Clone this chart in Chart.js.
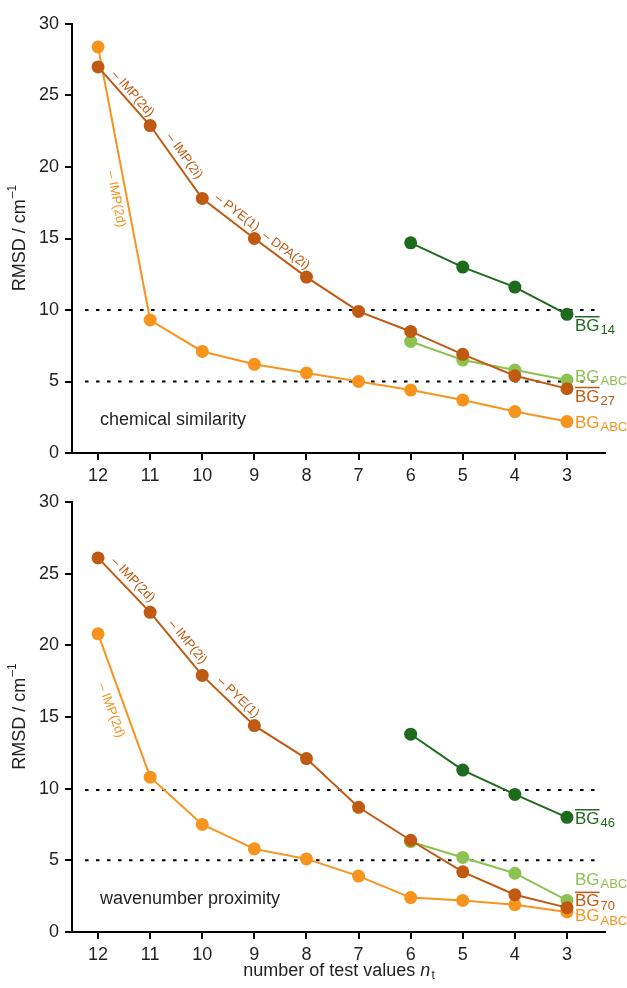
<!DOCTYPE html>
<html>
<head>
<meta charset="utf-8">
<script src="https://cdn.jsdelivr.net/npm/chart.js@4/dist/chart.umd.min.js"></script>
<style>
body { margin: 0; background: #fff; }
#wrap { position: relative; width: 627px; height: 988px; }
canvas { position: absolute; left: 0; }
</style>
</head>
<body>
<div id="wrap">
  <canvas id="chemChart" width="627" height="484" style="top:0px"></canvas>
  <canvas id="waveChart" width="627" height="504" style="top:484px"></canvas>
</div>
<script>
// number of test values (x categories)
var nt = [12, 11, 10, 9, 8, 7, 6, 5, 4, 3];
var ntShort = [6, 5, 4, 3];

// chemical similarity panel
var chemDarkOrange  = [27.0, 22.9, 17.8, 15.0, 12.3, 9.9, 8.5, 6.9, 5.4, 4.5];
var chemLightOrange = [28.4, 9.3, 7.1, 6.2, 5.6, 5.0, 4.4, 3.7, 2.9, 2.2];
var chemDarkGreen   = [14.7, 13.0, 11.6, 9.7];
var chemLightGreen  = [7.8, 6.5, 5.8, 5.1];
var chemRefLines    = [10, 5];

// wavenumber proximity panel
var waveDarkOrange  = [26.1, 22.3, 17.9, 14.4, 12.1, 8.7, 6.4, 4.2, 2.6, 1.7];
var waveLightOrange = [20.8, 10.8, 7.5, 5.8, 5.1, 3.9, 2.4, 2.2, 1.9, 1.4];
var waveDarkGreen   = [13.8, 11.3, 9.6, 8.0];
var waveLightGreen  = [6.3, 5.2, 4.1, 2.2];
var waveRefLines    = [9.9, 5];

var yTickStep = 5;

var darkOrange = '#C05A12',
    lightOrange = '#F7941D',
    darkGreen = '#1E6B1E',
    lightGreen = '#8DC152',
    ink = '#231F20';

var fontFam = '"Liberation Sans", Arial, Helvetica, sans-serif';

function toPoints(xs, ys) {
  return xs.map(function(x, i) { return { x: x, y: ys[i] }; });
}

function lineSet(xs, ys, colour) {
  return {
    data: toPoints(xs, ys),
    borderColor: colour,
    backgroundColor: colour,
    pointBackgroundColor: colour,
    pointBorderWidth: 0,
    pointRadius: 6.5,
    borderWidth: 2,
    tension: 0
  };
}

function refSet(v) {
  return {
    data: [{ x: 12.25, y: v }, { x: 2.42, y: v }],
    borderColor: '#000',
    borderWidth: 2,
    borderDash: [3.5, 7.5],
    pointRadius: 0,
    tension: 0
  };
}

function drawTag(ctx, x, yBase, tag) {
  ctx.fillStyle = tag.color;
  ctx.textAlign = 'left';
  ctx.textBaseline = 'alphabetic';
  ctx.font = '17px ' + fontFam;
  ctx.fillText('BG', x, yBase);
  var w = ctx.measureText('BG').width;
  if (tag.bar) {
    ctx.strokeStyle = tag.color;
    ctx.lineWidth = 1.5;
    ctx.beginPath();
    ctx.moveTo(x, yBase - 14);
    ctx.lineTo(x + w, yBase - 14);
    ctx.stroke();
  }
  ctx.font = '13px ' + fontFam;
  ctx.fillText(tag.sub, x + w + 1, yBase + 3.5);
}

var decorPlugin = {
  id: 'decor',
  afterDatasetsDraw: function(chart, args, opts) {
    var ctx = chart.ctx, xs = chart.scales.x, ys = chart.scales.y, area = chart.chartArea;
    ctx.save();

    // labels written along the line segments
    opts.notes.forEach(function(n) {
      var pts = chart.getDatasetMeta(n.ds).data;
      var p1 = pts[n.seg], p2 = pts[n.seg + 1];
      var a = Math.atan2(p2.y - p1.y, p2.x - p1.x);
      var cx = p1.x + n.t * (p2.x - p1.x) + n.off * Math.sin(a);
      var cy = p1.y + n.t * (p2.y - p1.y) - n.off * Math.cos(a);
      ctx.save();
      ctx.translate(cx, cy);
      ctx.rotate(a);
      ctx.font = '13px ' + fontFam;
      ctx.fillStyle = n.color;
      ctx.textAlign = 'center';
      ctx.textBaseline = 'middle';
      ctx.fillText(n.text, 0, 0);
      ctx.restore();
    });

    // series names at the right end
    var tx = xs.getPixelForValue(3) + 8;
    opts.tags.forEach(function(tag) {
      drawTag(ctx, tx, ys.getPixelForValue(tag.y), tag);
    });

    // panel caption
    ctx.fillStyle = ink;
    ctx.font = '18px ' + fontFam;
    ctx.textAlign = 'left';
    ctx.textBaseline = 'middle';
    ctx.fillText(opts.caption, area.left + 28, ys.getPixelForValue(2.3));

    // y title  RMSD / cm-1
    ctx.save();
    ctx.translate(20, (area.top + area.bottom) / 2);
    ctx.rotate(-Math.PI / 2);
    ctx.font = '18px ' + fontFam;
    var main = 'RMSD / cm';
    var mw = ctx.measureText(main).width;
    ctx.font = '12px ' + fontFam;
    var sw = ctx.measureText('\u20131').width;
    var start = -(mw + sw) / 2;
    ctx.textAlign = 'left';
    ctx.textBaseline = 'middle';
    ctx.font = '18px ' + fontFam;
    ctx.fillText(main, start, 0);
    ctx.font = '12px ' + fontFam;
    ctx.fillText('\u20131', start + mw + 1, -7);
    ctx.restore();

    // x title on the lower panel only
    if (opts.xTitle) {
      var yT = area.bottom + 39;
      var p1 = 'number of test values ';
      ctx.font = '18px ' + fontFam;
      var w1 = ctx.measureText(p1).width;
      ctx.font = 'italic 18px ' + fontFam;
      var w2 = ctx.measureText('n').width;
      ctx.font = '12px ' + fontFam;
      var w3 = ctx.measureText('t').width;
      var x0 = (area.left + area.right) / 2 - (w1 + w2 + w3) / 2;
      ctx.font = '18px ' + fontFam;
      ctx.fillText(p1, x0, yT);
      ctx.font = 'italic 18px ' + fontFam;
      ctx.fillText('n', x0 + w1, yT);
      ctx.font = '12px ' + fontFam;
      ctx.fillText('t', x0 + w1 + w2 + 1, yT + 5);
    }
    ctx.restore();
  }
};

function makeChart(id, series, refLines, decor, padTop, axisHeight) {
  var datasets = [
    lineSet(nt, series.darkOrange, darkOrange),
    lineSet(ntShort, series.darkGreen, darkGreen),
    lineSet(ntShort, series.lightGreen, lightGreen),
    lineSet(nt, series.lightOrange, lightOrange)
  ];
  refLines.forEach(function(v) { datasets.push(refSet(v)); });

  var axisGrid = { drawOnChartArea: false, drawTicks: true, tickLength: 7, color: '#000', lineWidth: 2 };
  var axisBorder = { color: '#000', width: 2 };
  var tickFont = { family: fontFam, size: 18 };

  return new Chart(document.getElementById(id).getContext('2d'), {
    type: 'line',
    data: { datasets: datasets },
    plugins: [decorPlugin],
    options: {
      responsive: false,
      animation: false,
      layout: { padding: { left: 0, top: padTop, right: 22, bottom: 0 } },
      plugins: {
        legend: { display: false },
        tooltip: { enabled: false },
        decor: decor
      },
      scales: {
        x: {
          type: 'linear',
          reverse: true,
          min: 2.27,
          max: 12.5,
          grid: axisGrid,
          border: axisBorder,
          afterBuildTicks: function(s) {
            s.ticks = nt.map(function(v) { return { value: v }; });
          },
          afterFit: function(s) { s.height = axisHeight; },
          ticks: {
            autoSkip: false,
            maxRotation: 0,
            padding: 5,
            color: ink,
            font: tickFont,
            callback: function(v) { return String(v); }
          }
        },
        y: {
          min: 0,
          max: 30,
          grid: axisGrid,
          border: axisBorder,
          afterFit: function(s) { s.width = 72; },
          ticks: {
            stepSize: yTickStep,
            padding: 6,
            color: ink,
            font: tickFont
          }
        }
      }
    }
  });
}

makeChart('chemChart', {
  darkOrange: chemDarkOrange,
  lightOrange: chemLightOrange,
  darkGreen: chemDarkGreen,
  lightGreen: chemLightGreen
}, chemRefLines, {
  caption: 'chemical similarity',
  xTitle: false,
  notes: [
    { ds: 0, seg: 0, t: 0.55, off: 8, text: '\u2013 IMP(2d)', color: darkOrange },
    { ds: 0, seg: 1, t: 0.5, off: 10, text: '\u2013 IMP(2i)', color: darkOrange },
    { ds: 0, seg: 2, t: 0.55, off: 10, text: '\u2013 PYE(1)', color: darkOrange },
    { ds: 0, seg: 3, t: 0.5, off: 9, text: '\u2013 DPA(2i)', color: darkOrange },
    { ds: 3, seg: 0, t: 0.55, off: -11, text: '\u2013 IMP(2d)', color: lightOrange }
  ],
  tags: [
    { y: 8.55, sub: '14', bar: true, color: darkGreen },
    { y: 5.0, sub: 'ABC', bar: false, color: lightGreen },
    { y: 3.6, sub: '27', bar: true, color: darkOrange },
    { y: 1.75, sub: 'ABC', bar: false, color: lightOrange }
  ]
}, 24, 31);

makeChart('waveChart', {
  darkOrange: waveDarkOrange,
  lightOrange: waveLightOrange,
  darkGreen: waveDarkGreen,
  lightGreen: waveLightGreen
}, waveRefLines, {
  caption: 'wavenumber proximity',
  xTitle: true,
  notes: [
    { ds: 0, seg: 0, t: 0.53, off: 10, text: '\u2013 IMP(2d)', color: darkOrange },
    { ds: 0, seg: 1, t: 0.57, off: 10, text: '\u2013 IMP(2i)', color: darkOrange },
    { ds: 0, seg: 2, t: 0.57, off: 9, text: '\u2013 PYE(1)', color: darkOrange },
    { ds: 3, seg: 0, t: 0.5, off: -14, text: '\u2013 IMP(2d)', color: lightOrange }
  ],
  tags: [
    { y: 7.55, sub: '46', bar: true, color: darkGreen },
    { y: 3.3, sub: 'ABC', bar: false, color: lightGreen },
    { y: 1.79, sub: '70', bar: true, color: darkOrange },
    { y: 0.74, sub: 'ABC', bar: false, color: lightOrange }
  ]
}, 18, 56);
</script>
</body>
</html>
